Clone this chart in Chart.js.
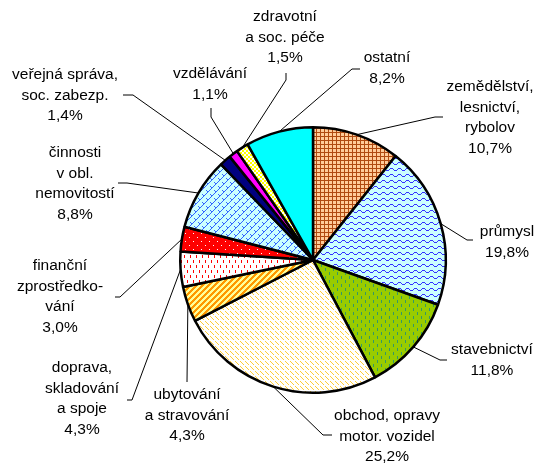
<!DOCTYPE html>
<html>
<head>
<meta charset="utf-8">
<script src="https://cdn.jsdelivr.net/npm/chart.js@4"></script>
<style>
  html, body { margin: 0; padding: 0; background: #fff; }
  #wrap { width: 535px; height: 465px; }
</style>
</head>
<body>
<div id="wrap"><canvas id="pieChart" width="535" height="465"></canvas></div>
<script>
// Data
const categories = [
    'zemědělství, lesnictví, rybolov', 'průmysl', 'stavebnictví',
    'obchod, opravy motor. vozidel', 'ubytování a stravování',
    'doprava, skladování a spoje', 'finanční zprostředkování',
    'činnosti v obl. nemovitostí', 'veřejná správa, soc. zabezp.',
    'vzdělávání', 'zdravotní a soc. péče', 'ostatní'
];
const shares = [10.7, 19.8, 11.8, 25.2, 4.3, 4.3, 3.0, 8.8, 1.4, 1.1, 1.5, 8.2];

// How each label is broken into lines
const labelLines = [
    ['zemědělství,', 'lesnictví,', 'rybolov'],
    ['průmysl'],
    ['stavebnictví'],
    ['obchod, opravy', 'motor. vozidel'],
    ['ubytování', 'a stravování'],
    ['doprava,', 'skladování', 'a spoje'],
    ['finanční', 'zprostředko-', 'vání'],
    ['činnosti', 'v obl.', 'nemovitostí'],
    ['veřejná správa,', 'soc. zabezp.'],
    ['vzdělávání'],
    ['zdravotní', 'a soc. péče'],
    ['ostatní']
];

// Label placement (text centre + leader line start/elbow)
const labelLayout = [
    { x: 490, y: 87,  lead: [[443, 117], [435, 117]] },
    { x: 507, y: 232, lead: [[473, 240], [467, 240]] },
    { x: 492, y: 350, lead: [[447, 360], [440, 360]] },
    { x: 387, y: 416, lead: [[332, 435], [323, 435]] },
    { x: 187, y: 395, lead: [[187, 382], [187, 382]] },
    { x: 82,  y: 368, lead: [[127, 400], [132, 400]] },
    { x: 60,  y: 266, lead: [[115, 297], [120, 297]] },
    { x: 75,  y: 153, lead: [[118, 183], [127, 183]] },
    { x: 65,  y: 75,  lead: [[123, 95],  [133, 95]] },
    { x: 210, y: 74,  lead: [[211, 108], [211, 117]] },
    { x: 285, y: 17,  lead: [[286, 73],  [286, 80]] },
    { x: 387, y: 58,  lead: [[360, 69],  [352, 69]] }
];

const ctx = document.getElementById('pieChart').getContext('2d');

// Small tiles used as fill patterns
function makePattern(w, h, bg, draw) {
    const c = document.createElement('canvas');
    c.width = w; c.height = h;
    const g = c.getContext('2d');
    g.fillStyle = bg;
    g.fillRect(0, 0, w, h);
    draw(g);
    return ctx.createPattern(c, 'repeat');
}

const fills = [
    makePattern(8, 8, '#FFCC99', g => {
        g.fillStyle = '#B04A10';
        g.fillRect(0, 0, 8, 1); g.fillRect(0, 4, 8, 1);
        g.fillRect(0, 0, 1, 8); g.fillRect(4, 0, 1, 8);
    }),
    makePattern(8, 6, '#CCFFFF', g => {
        g.fillStyle = '#3333FF';
        [0, 1, 2, 2, 2, 1, 0, 0].forEach((y, x) => g.fillRect(x, y, 1, 1));
    }),
    makePattern(8, 8, '#99CC00', g => {
        g.fillStyle = '#339966';
        g.fillRect(1, 0, 1, 3); g.fillRect(5, 4, 1, 3);
    }),
    makePattern(5, 5, '#FFFFFF', g => {
        g.fillStyle = '#FFCC33';
        g.fillRect(0, 1, 1, 1); g.fillRect(1, 2, 1, 1);
        g.fillRect(2, 3, 1, 1); g.fillRect(3, 4, 1, 1);
    }),
    makePattern(6, 6, '#FFFF99', g => {
        g.fillStyle = '#FF9900';
        for (let y = 0; y < 6; y++) {
            for (let k = 0; k < 3; k++) g.fillRect((6 - y + k) % 6, y, 1, 1);
        }
    }),
    makePattern(6, 10, '#FFFFFF', g => {
        g.fillStyle = '#FF0000';
        g.fillRect(1, 0, 1, 3); g.fillRect(4, 5, 1, 3);
    }),
    makePattern(8, 8, '#FF0000', g => {
        g.fillStyle = '#FFFFFF';
        g.fillRect(1, 1, 1, 1); g.fillRect(5, 5, 1, 1);
    }),
    makePattern(8, 8, '#CCFFFF', g => {
        g.fillStyle = '#3366FF';
        for (let i = 0; i < 8; i++) g.fillRect(7 - i, i, 1, 1);
        g.fillRect(2, 2, 1, 1); g.fillRect(3, 3, 1, 1);
        g.fillRect(6, 6, 1, 1); g.fillRect(7, 7, 1, 1);
    }),
    '#000080',
    '#FF00FF',
    makePattern(4, 4, '#FFFFFF', g => {
        g.fillStyle = '#FFFF00';
        g.fillRect(0, 0, 2, 2); g.fillRect(2, 2, 2, 2);
    }),
    '#00FFFF'
];

const fmt = v => v.toFixed(1).replace('.', ',') + '%';

// Labels with leader lines
const pieLabels = {
    id: 'pieLabels',
    afterDatasetsDraw(chart) {
        const c = chart.ctx;
        const arcs = chart.getDatasetMeta(0).data;
        c.save();
        c.strokeStyle = '#000';
        c.lineWidth = 1;
        arcs.forEach((arc, i) => {
            const p = arc.getProps(['x', 'y', 'startAngle', 'endAngle', 'outerRadius'], true);
            const mid = (p.startAngle + p.endAngle) / 2;
            const ex = p.x + Math.cos(mid) * p.outerRadius;
            const ey = p.y + Math.sin(mid) * p.outerRadius;
            const L = labelLayout[i];
            c.beginPath();
            c.moveTo(L.lead[0][0], L.lead[0][1]);
            c.lineTo(L.lead[1][0], L.lead[1][1]);
            c.lineTo(ex, ey);
            c.stroke();
        });
        c.fillStyle = '#000';
        c.font = '15.5px "Liberation Sans", Arial, sans-serif';
        c.textAlign = 'center';
        c.textBaseline = 'middle';
        labelLayout.forEach((L, i) => {
            const lines = labelLines[i].concat([fmt(shares[i])]);
            lines.forEach((t, k) => c.fillText(t, L.x, L.y + k * 20.6));
        });
        c.restore();
    }
};

new Chart(ctx, {
    type: 'pie',
    data: {
        labels: categories,
        datasets: [{
            data: shares,
            backgroundColor: fills,
            borderColor: '#000',
            borderWidth: 2.5
        }]
    },
    options: {
        responsive: false,
        animation: false,
        layout: { padding: { left: 179, right: 88, top: 126, bottom: 71 } },
        plugins: {
            legend: { display: false },
            tooltip: { enabled: false }
        }
    },
    plugins: [pieLabels]
});
</script>
</body>
</html>
